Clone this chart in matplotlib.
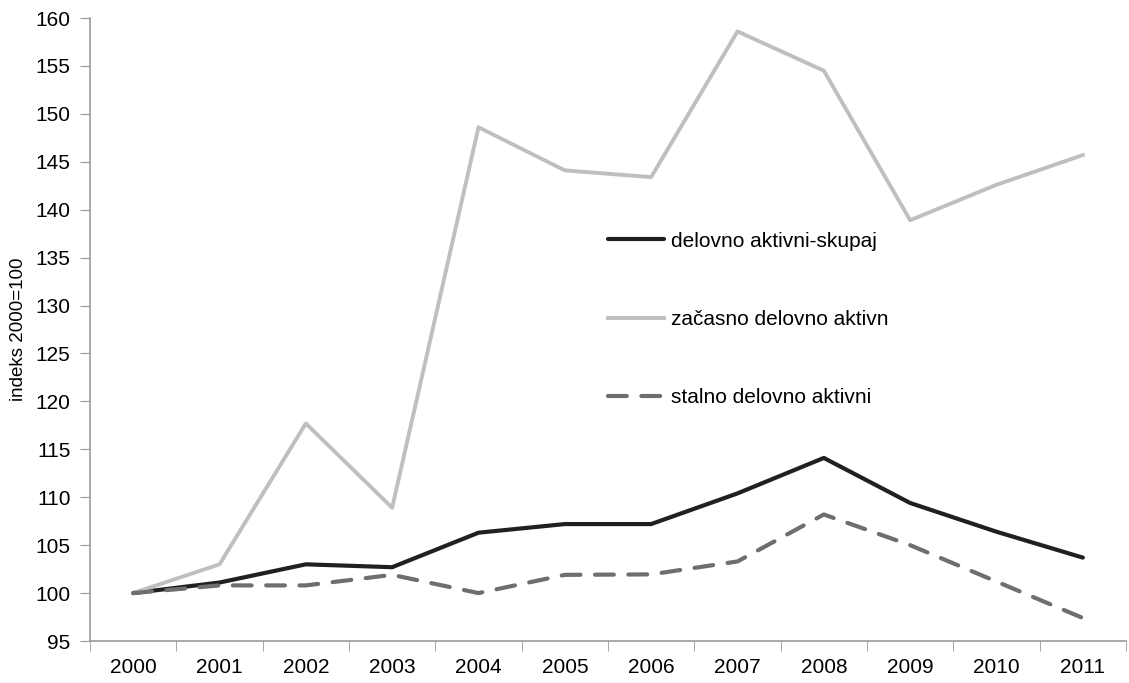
import matplotlib
matplotlib.use("Agg")
import matplotlib.pyplot as plt
import numpy as np

plt.rcParams["font.family"] = ["Liberation Sans", "DejaVu Sans"]

years = ["2000", "2001", "2002", "2003", "2004", "2005",
         "2006", "2007", "2008", "2009", "2010", "2011"]
skupaj = [100.0, 101.1, 103.0, 102.7, 106.3, 107.2,
          107.2, 110.4, 114.1, 109.4, 106.4, 103.7]
zacasno = [100.0, 103.0, 117.7, 108.9, 148.6, 144.1,
           143.4, 158.6, 154.5, 138.9, 142.6, 145.7]
stalno = [100.0, 100.8, 100.8, 101.9, 100.0, 101.9,
          101.95, 103.3, 108.2, 105.0, 101.2, 97.4]

fig = plt.figure(figsize=(11.29, 6.83), dpi=100)
ax = fig.add_axes([90 / 1129, 42 / 683, 1036 / 1129, 623 / 683])

x = np.arange(len(years))
ax.plot(x, skupaj, color="#231f20", lw=3.0, label="delovno aktivni-skupaj",
        solid_capstyle="round")
ax.plot(x, zacasno, color="#bfbfbf", lw=2.8, label="začasno delovno aktivn")
ax.plot(x, stalno, color="#6d6e71", lw=3.0, ls=(0, (4.5, 3.5)),
        label="stalno delovno aktivni", dash_capstyle="round")

ax.set_xlim(-0.5, len(years) - 0.5)
ax.set_ylim(95, 160)
ax.set_yticks(range(95, 161, 5))
ax.set_xticks(x)
ax.set_xticklabels(years)
ax.set_xticks(np.arange(-0.5, len(years)), minor=True)
ax.tick_params(axis="x", which="major", length=0, pad=12, labelsize=15)
ax.tick_params(axis="x", which="minor", length=7, color="#999999")
ax.tick_params(axis="y", length=7, color="#999999", labelsize=15, pad=7)
ax.set_ylabel("indeks 2000=100", fontsize=13.5, labelpad=6)

for s in ["top", "right"]:
    ax.spines[s].set_visible(False)
for s in ["left", "bottom"]:
    ax.spines[s].set_color("#999999")
    ax.spines[s].set_linewidth(1.2)

ax.legend(loc="upper left", bbox_to_anchor=(0.482, 0.687), frameon=False,
          fontsize=15, labelspacing=2.84, handlelength=2.7, handletextpad=0.33)

fig.savefig("out.png", dpi=100)
